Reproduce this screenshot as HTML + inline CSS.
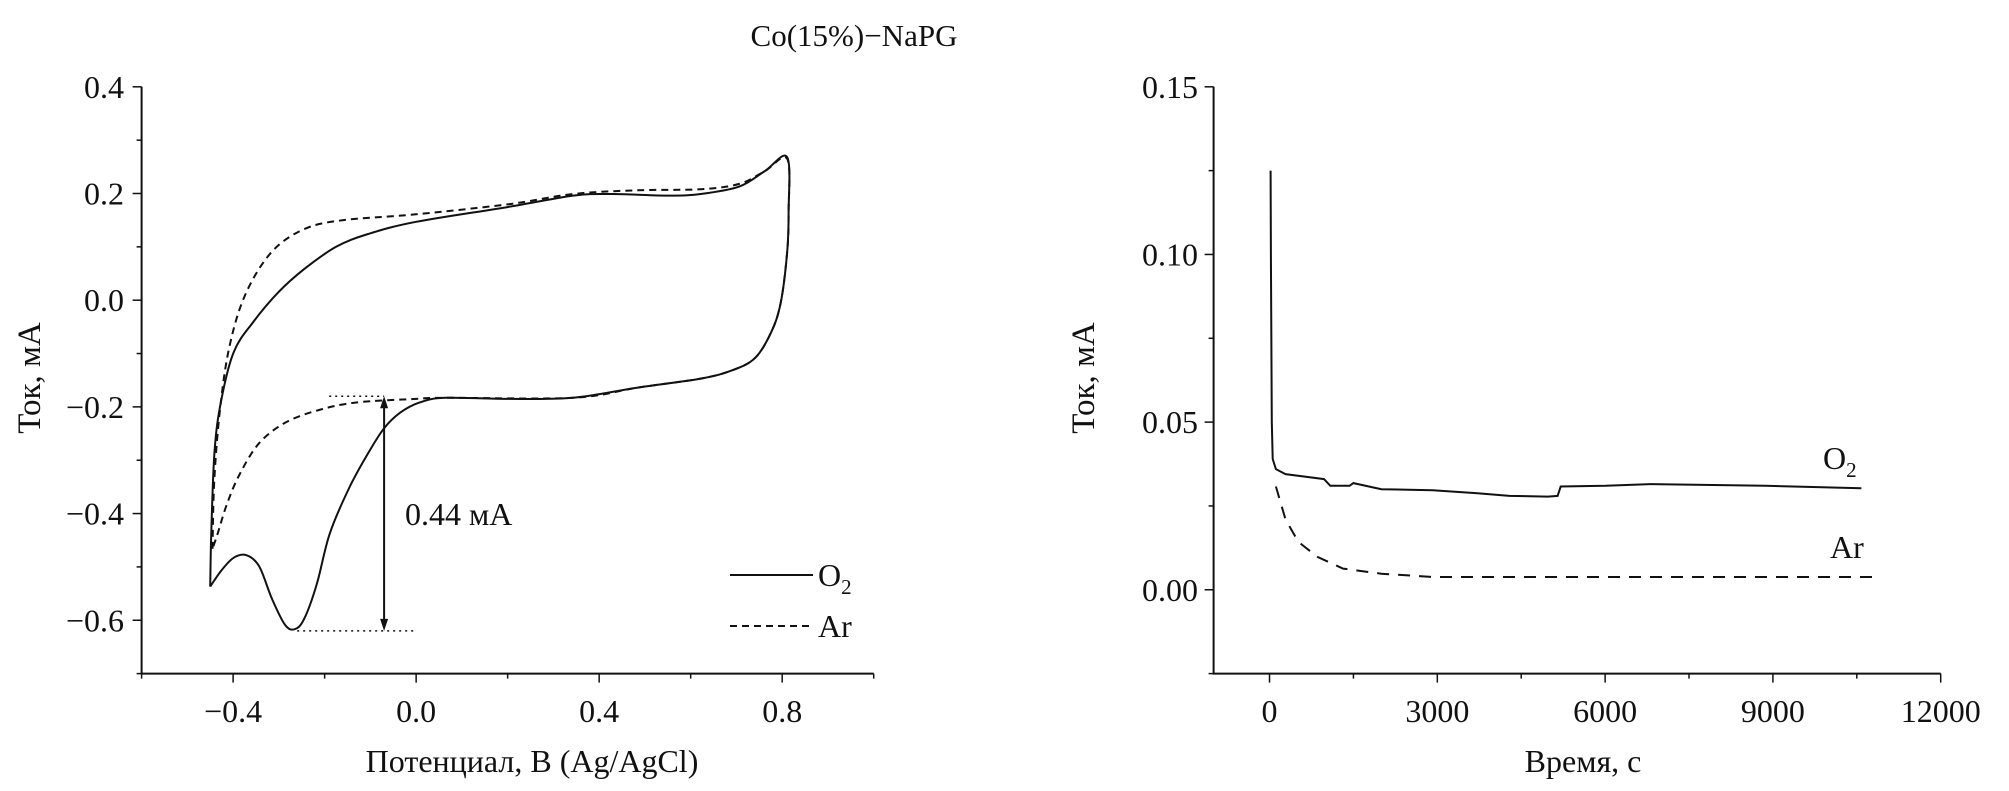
<!DOCTYPE html>
<html><head><meta charset="utf-8">
<style>
html,body{margin:0;padding:0;background:#fff;}
svg{display:block;font-family:"Liberation Serif",serif;}
text{fill:#111;}
</style></head>
<body>
<svg id="fig" width="2009" height="791" viewBox="0 0 2009 791">
<text x="854" y="46" font-size="31" text-anchor="middle">Co(15%)−NaPG</text>
<g id="cv"></g>
<g id="ca"></g>
</svg>
<script>
// ---- CV chart data ----
const cvXTicks = [-0.4, 0.0, 0.4, 0.8];
const cvXTickLabels = ["\u22120.4", "0.0", "0.4", "0.8"];
const cvYTicks = [0.4, 0.2, 0.0, -0.2, -0.4, -0.6];
const cvYTickLabels = ["0.4", "0.2", "0.0", "\u22120.2", "\u22120.4", "\u22120.6"];
const o2Potential = [-0.450,-0.448,-0.441,-0.427,-0.399,-0.357,-0.301,-0.245,-0.175,-0.105,0,0.203,0.343,0.427,0.552,0.622,0.706,0.762,0.811,0.814,0.811,0.797,0.776,0.741,0.692,0.622,0.483,0.343,0.203,0.063,0.007,-0.035,-0.070,-0.105,-0.147,-0.189,-0.217,-0.245,-0.266,-0.287,-0.315,-0.343,-0.371,-0.399,-0.427,-0.450];
const o2Current = [-0.537,-0.447,-0.287,-0.192,-0.098,-0.042,0.015,0.058,0.100,0.124,0.147,0.175,0.196,0.199,0.196,0.199,0.213,0.242,0.268,0.166,0.091,-0.004,-0.060,-0.108,-0.131,-0.147,-0.164,-0.183,-0.185,-0.183,-0.192,-0.211,-0.240,-0.287,-0.353,-0.438,-0.532,-0.598,-0.617,-0.608,-0.560,-0.499,-0.478,-0.483,-0.508,-0.537];
const arPotential = [-0.445,-0.441,-0.427,-0.406,-0.371,-0.315,-0.245,-0.161,0,0.203,0.343,0.483,0.622,0.706,0.762,0.811,0.814,0.811,0.797,0.776,0.741,0.692,0.622,0.483,0.343,0.063,0,-0.133,-0.217,-0.287,-0.343,-0.385,-0.413,-0.434,-0.445];
const arCurrent = [-0.466,-0.334,-0.192,-0.079,0.015,0.091,0.133,0.150,0.161,0.180,0.199,0.206,0.208,0.218,0.242,0.265,0.166,0.091,-0.004,-0.060,-0.108,-0.131,-0.147,-0.164,-0.183,-0.183,-0.185,-0.192,-0.207,-0.230,-0.268,-0.325,-0.381,-0.438,-0.466];
// ---- Chronoamperometry data ----
const caXTicks = [0, 3000, 6000, 9000, 12000];
const caXTickLabels = ["0", "3000", "6000", "9000", "12000"];
const caYTicks = [0.15, 0.10, 0.05, 0.00];
const caYTickLabels = ["0.15", "0.10", "0.05", "0.00"];
const o2Time = [20,25,40,57,114,286,973,1087,1430,1500,2000,2918,3718,4290,4976,5150,5205,6006,6807,8866,10582];
const o2Signal = [0.125,0.10,0.05,0.039,0.036,0.0345,0.033,0.031,0.031,0.0318,0.030,0.0297,0.0288,0.028,0.0278,0.028,0.0308,0.031,0.0315,0.031,0.0303];
const arTime = [114,286,515,858,1316,2000,2918,10868];
const arSignal = [0.0308,0.021,0.0143,0.0098,0.0063,0.0048,0.0038,0.0038];

const NS = "http://www.w3.org/2000/svg";
function mk(parent, tag, attrs){const e=document.createElementNS(NS,tag);for(const k in attrs)e.setAttribute(k,attrs[k]);parent.appendChild(e);return e;}
function txt(parent, x, y, s, size, anchor){const t=mk(parent,"text",{x:x,y:y,"font-size":size,"text-anchor":anchor});t.textContent=s;return t;}
function pathFrom(xs,ys,fx,fy){return xs.map((v,i)=>(i?"L":"M")+fx(v).toFixed(1)+","+fy(ys[i]).toFixed(1)).join("");}
function smoothFrom(xs,ys,fx,fy){
  const p=xs.map((v,i)=>[fx(v),fy(ys[i])]);
  let d="M"+p[0][0].toFixed(1)+","+p[0][1].toFixed(1);
  for(let i=0;i<p.length-1;i++){
    const p0=p[Math.max(0,i-1)],p1=p[i],p2=p[i+1],p3=p[Math.min(p.length-1,i+2)];
    const c1=[p1[0]+(p2[0]-p0[0])/6,p1[1]+(p2[1]-p0[1])/6];
    const c2=[p2[0]-(p3[0]-p1[0])/6,p2[1]-(p3[1]-p1[1])/6];
    d+="C"+c1[0].toFixed(1)+","+c1[1].toFixed(1)+" "+c2[0].toFixed(1)+","+c2[1].toFixed(1)+" "+p2[0].toFixed(1)+","+p2[1].toFixed(1);
  }
  return d;
}

// CV scales
const cvL=141.6, cvR=873.7, cvT=86.8, cvB=673.6, cvX0=-0.6, cvX1=1.0, cvY0=-0.7, cvY1=0.4;
const cx = v => cvL + (v-cvX0)/(cvX1-cvX0)*(cvR-cvL);
const cy = v => cvB - (v-cvY0)/(cvY1-cvY0)*(cvB-cvT);
const cv=document.getElementById("cv");
let e;
e=mk(cv,"path",{d:`M${cvL},${cvT}V${cvB}H${cvR}`,fill:"none",stroke:"#111","stroke-width":2});


for(let v=-0.7;v<=0.41;v+=0.1){const len=Math.abs(Math.round(v*10))%2===0?9:5;mk(cv,"line",{x1:cvL-len,x2:cvL,y1:cy(v),y2:cy(v),stroke:"#111","stroke-width":1.5});}
for(let v=-0.6;v<=1.01;v+=0.2){const len=Math.abs(Math.round(v*10))%4===0?9:5;mk(cv,"line",{x1:cx(v),x2:cx(v),y1:cvB,y2:cvB+len,stroke:"#111","stroke-width":1.5});}
cvYTicks.forEach((v,i)=>{e=txt(cv,124,cy(v)+11,cvYTickLabels[i],32,"end");

});
cvXTicks.forEach((v,i)=>{e=txt(cv,cx(v),722,cvXTickLabels[i],32,"middle");

});
e=txt(cv,532,772,"Потенциал, В (Ag/AgCl)",32,"middle");


e=txt(cv,0,0,"Ток, мА",33,"middle");e.setAttribute("transform","translate(40,378) rotate(-90)");


e=mk(cv,"path",{d:smoothFrom(arPotential,arCurrent,cx,cy),fill:"none",stroke:"#111","stroke-width":2,"stroke-dasharray":"7,5","stroke-linejoin":"round"});


e=mk(cv,"path",{d:smoothFrom(o2Potential,o2Current,cx,cy),fill:"none",stroke:"#111","stroke-width":2,"stroke-linejoin":"round"});


// annotation
mk(cv,"line",{x1:cx(-0.19),x2:cx(-0.07),y1:cy(-0.18),y2:cy(-0.18),stroke:"#111","stroke-width":1.5,"stroke-dasharray":"2,4"});
mk(cv,"line",{x1:cx(-0.26),x2:cx(-0.005),y1:cy(-0.62),y2:cy(-0.62),stroke:"#111","stroke-width":1.5,"stroke-dasharray":"2,4"});
const ax=cx(-0.07);
e=mk(cv,"line",{x1:ax,x2:ax,y1:cy(-0.18)+8,y2:cy(-0.62)-8,stroke:"#111","stroke-width":2});


mk(cv,"path",{d:`M${ax-4},${cy(-0.18)+12}L${ax},${cy(-0.18)}L${ax+4},${cy(-0.18)+12}Z`,fill:"#111"});
mk(cv,"path",{d:`M${ax-4},${cy(-0.62)-12}L${ax},${cy(-0.62)}L${ax+4},${cy(-0.62)-12}Z`,fill:"#111"});
e=txt(cv,405,525,"0.44 мА",32,"start");


// legend
e=mk(cv,"line",{x1:730,x2:813,y1:575,y2:575,stroke:"#111","stroke-width":2});


e=mk(cv,"text",{x:818,y:586,"font-size":32});e.innerHTML='O<tspan font-size="21" dy="8">2</tspan>';


e=mk(cv,"line",{x1:730,x2:813,y1:626,y2:626,stroke:"#111","stroke-width":2,"stroke-dasharray":"7,5"});


e=txt(cv,818,637,"Ar",32,"start");



// CA scales
const caL=1213.6, caR=1940.7, caT=86.8, caB=673.6, caX0=-1000, caX1=12000, caY0=-0.025, caY1=0.15;
const tx = v => caL + (v-caX0)/(caX1-caX0)*(caR-caL);
const ty = v => caB - (v-caY0)/(caY1-caY0)*(caB-caT);
const ca=document.getElementById("ca");
e=mk(ca,"path",{d:`M${caL},${caT}V${caB}H${caR}`,fill:"none",stroke:"#111","stroke-width":2});


for(let k=0;k<=7;k++){const v=-0.025+k*0.025;const len=k%2===1?9:5;mk(ca,"line",{x1:caL-len,x2:caL,y1:ty(v),y2:ty(v),stroke:"#111","stroke-width":1.5});}
for(let k=0;k<=8;k++){const v=k*1500;const len=k%2===0?9:5;mk(ca,"line",{x1:tx(v),x2:tx(v),y1:caB,y2:caB+len,stroke:"#111","stroke-width":1.5});}
caYTicks.forEach((v,i)=>{e=txt(ca,1198,ty(v)+11,caYTickLabels[i],32,"end");

});
caXTicks.forEach((v,i)=>{e=txt(ca,tx(v),722,caXTickLabels[i],32,"middle");

});
e=txt(ca,1583,772,"Время, с",32,"middle");


e=txt(ca,0,0,"Ток, мА",33,"middle");e.setAttribute("transform","translate(1094,378) rotate(-90)");


e=mk(ca,"path",{d:pathFrom(arTime,arSignal,tx,ty),fill:"none",stroke:"#111","stroke-width":2,"stroke-dasharray":"12,9"});


e=mk(ca,"path",{d:pathFrom(o2Time,o2Signal,tx,ty),fill:"none",stroke:"#111","stroke-width":2});


e=mk(ca,"text",{x:1823,y:469,"font-size":32});e.innerHTML='O<tspan font-size="21" dy="8">2</tspan>';


e=txt(ca,1830,558,"Ar",32,"start");


</script>
</body></html>
